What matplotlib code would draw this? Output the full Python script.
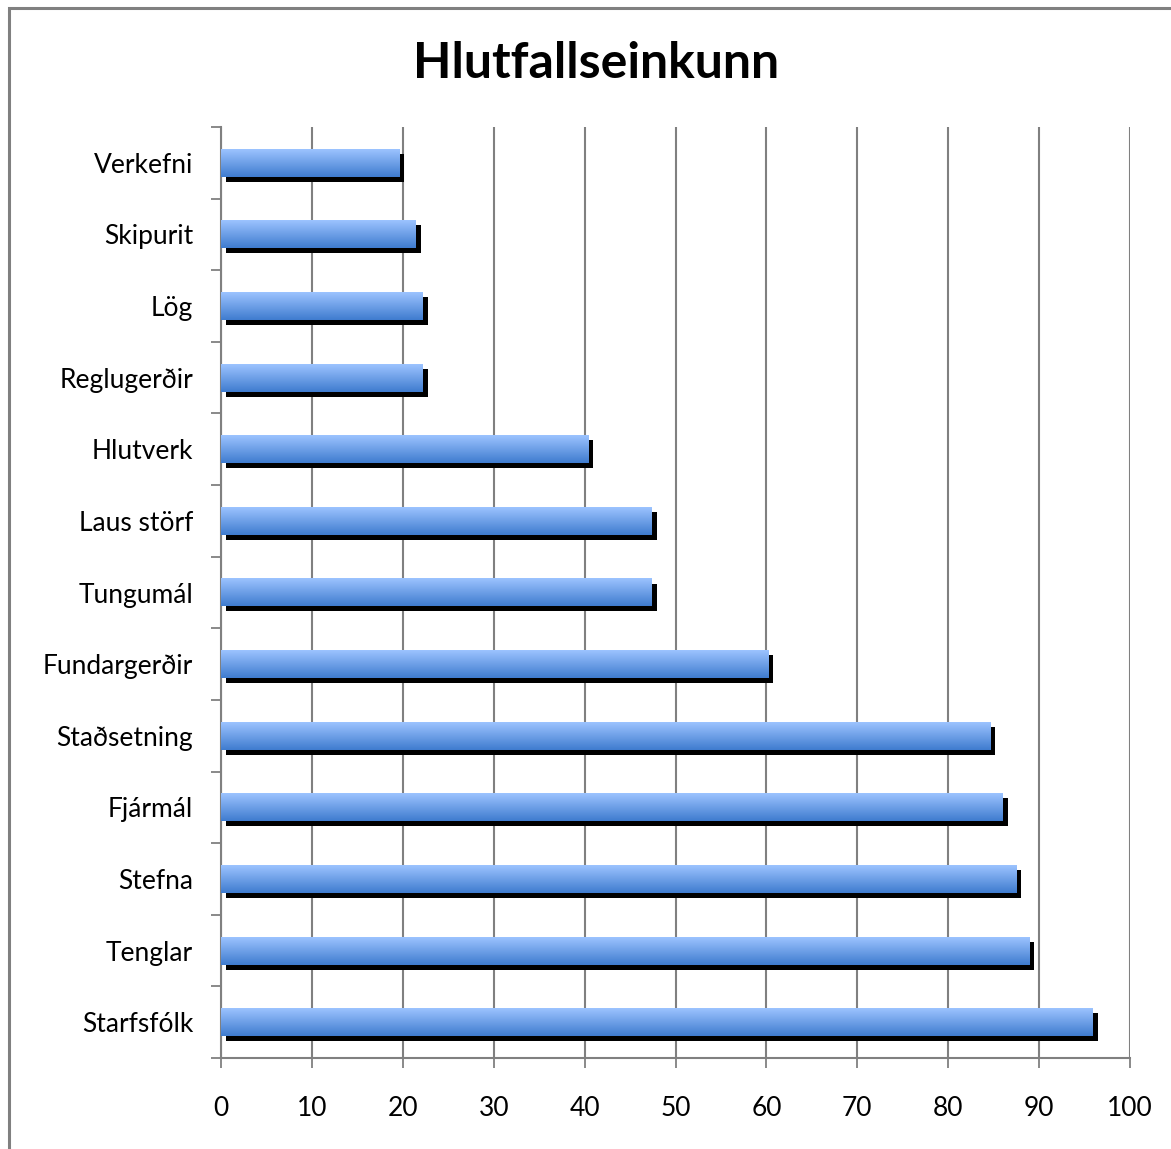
import numpy as np
import matplotlib
matplotlib.use("Agg")
import matplotlib.pyplot as plt
from matplotlib.transforms import offset_copy
from matplotlib.patches import Rectangle

# categories top to bottom, as shown
categories = ['Verkefni', 'Skipurit', 'Lög', 'Reglugerðir', 'Hlutverk', 'Laus störf',
              'Tungumál', 'Fundargerðir', 'Staðsetning', 'Fjármál', 'Stefna',
              'Tenglar', 'Starfsfólk']
values = [19.6, 21.4, 22.2, 22.2, 40.4, 47.4, 47.4, 60.2, 84.6, 86.0, 87.5, 88.9, 95.9]
x_ticks = list(range(0, 101, 10))

plt.rcParams['font.family'] = ['Lato', 'DejaVu Sans']

fig = plt.figure(figsize=(11.71, 11.49), dpi=100)
ax = fig.add_axes([221 / 1171, 1 - 1058 / 1149, 909 / 1171, 931 / 1149])

# outer chart frame
fig.patches.append(Rectangle((9 / 1171, -0.01), 1.2, 1 - 8 / 1149 + 0.01,
                             transform=fig.transFigure, fill=False,
                             edgecolor='#808080', linewidth=2.2))

bar_h = 0.39
ypos = np.arange(len(categories))
shadow = offset_copy(ax.transData, fig=fig, x=5, y=-5, units='dots')

# vertical gradient: light top -> darker bottom
grad = np.linspace(0, 1, 64)
top = np.array([0x9c, 0xc3, 0xff]) / 255
bot = np.array([0x3f, 0x7c, 0xcf]) / 255
img = (top[None, :] + (bot - top)[None, :] * grad[:, None])[:, None, :]

for y, v in zip(ypos, values):
    ax.barh(y, v, height=bar_h, color='black', transform=shadow, zorder=2)
    ax.imshow(img, extent=(0, v, y + bar_h / 2, y - bar_h / 2), aspect='auto',
              zorder=3, interpolation='bilinear', origin='upper')

ax.set_xlim(0, 100)
ax.set_ylim(len(categories) - 0.5, -0.5)

ax.set_xticks(x_ticks)
ax.set_xticklabels([str(t) for t in x_ticks], fontsize=19)
ax.tick_params(axis='x', length=7, width=1.3, color='#808080', pad=20)

ax.set_yticks(np.arange(-0.5, len(categories), 1))
ax.set_yticklabels([])
ax.set_yticks(ypos, minor=True)
ax.set_yticklabels(categories, minor=True, fontsize=19)
ax.tick_params(axis='y', which='major', length=7, width=1.3, color='#808080')
ax.tick_params(axis='y', which='minor', length=0, pad=20)

ax.grid(axis='x', color='#808080', linewidth=1.5, zorder=0)
ax.set_axisbelow(True)
for s in ['top', 'right']:
    ax.spines[s].set_visible(False)
for s in ['left', 'bottom']:
    ax.spines[s].set_color('#808080')
    ax.spines[s].set_linewidth(1.5)

fig.text(596 / 1171, 1 - 64 / 1149, 'Hlutfallseinkunn', ha='center', va='center',
         fontsize=36, fontweight='bold')

fig.savefig('out.png', dpi=100)
